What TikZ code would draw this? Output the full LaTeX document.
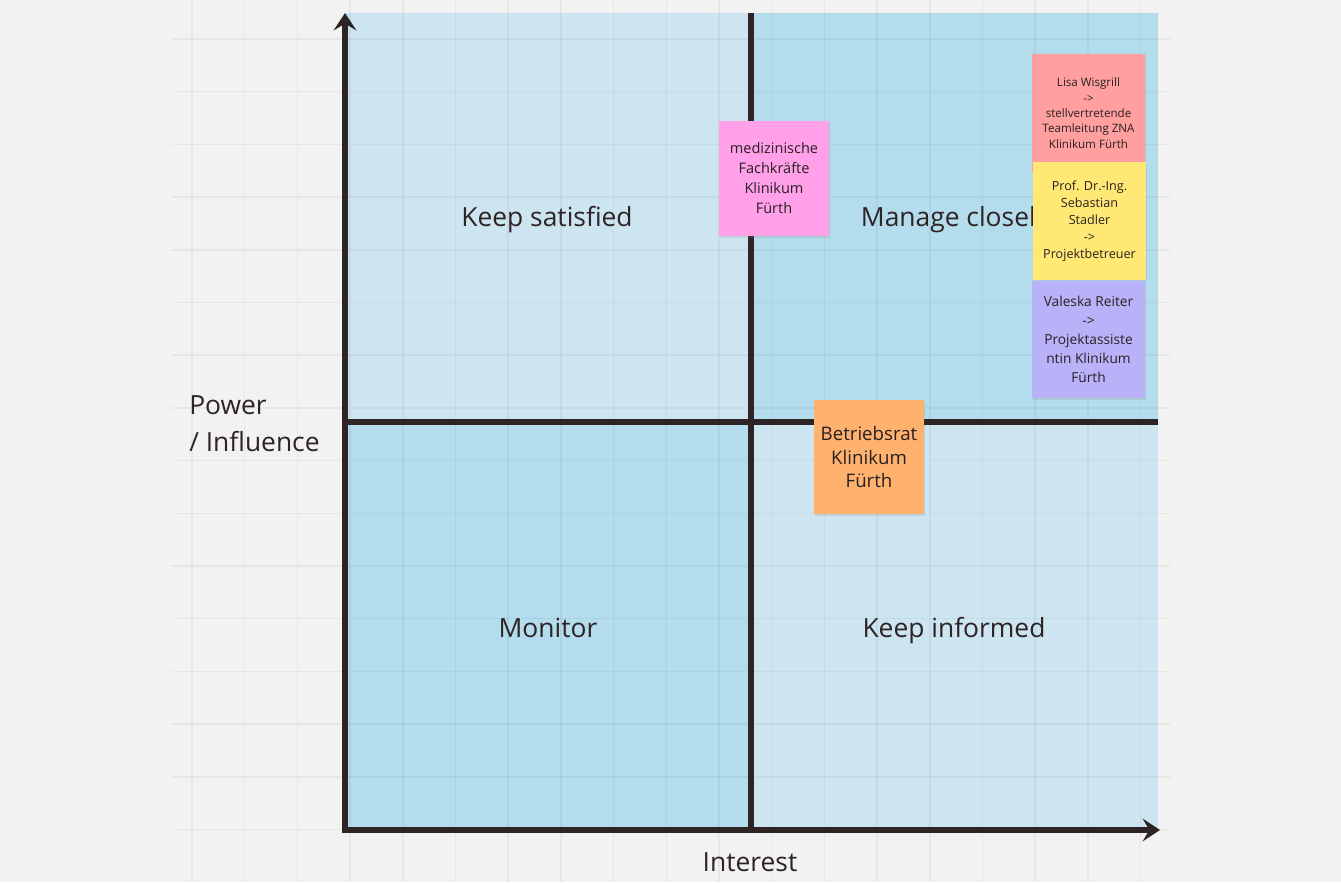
\documentclass[tikz,border=0pt]{standalone}
\usepackage{fontspec}
\setmainfont{Open Sans}
\usepackage{tikz}
\usetikzlibrary{arrows.meta}
\usetikzlibrary{shadows}
\definecolor{bgcol}{HTML}{F2F2F2}
\definecolor{quadlight}{HTML}{CDE5F0}
\definecolor{quaddark}{HTML}{B3DCEC}
\definecolor{inkcol}{HTML}{2E2426}
\definecolor{notepink}{HTML}{FFA0E8}
\definecolor{noteorange}{HTML}{FFB26E}
\definecolor{notered}{HTML}{FF9F9F}
\definecolor{noteyellow}{HTML}{FFE874}
\definecolor{notepurple}{HTML}{BAB2F8}
\tikzset{
  gridline/.style={black, opacity=.045, line width=1.1pt},
  axis/.style={inkcol, line width=3.8pt, line join=miter},
  quadlabel/.style={text=inkcol, font=\fontsize{19.8pt}{27.75pt}\selectfont, align=center, inner sep=0pt},
  sticky/.style={inner sep=0pt, align=center, text=inkcol!90!black,
    drop shadow={opacity=.18, shadow xshift=.6pt, shadow yshift=-1.6pt}}
}

\begin{document}
\begin{tikzpicture}[x=.75pt, y=-.75pt]
\useasboundingbox (0,0) rectangle (1341,882);
\fill[bgcol] (0,0) rectangle (1341,882);
% quadrants
\fill[quadlight] (345,13) rectangle (751,422);
\fill[quaddark]  (751,13) rectangle (1158,422);
\fill[quaddark]  (345,422) rectangle (751,830);
\fill[quadlight] (751,422) rectangle (1158,830);
% board grid
\foreach \i in {0,...,18} {
 \draw[gridline] ({192+52.7*\i},0) -- ({192+52.7*\i},882);
}
\foreach \j in {0,...,15} {
 \draw[gridline] (172,{39+52.7*\j}) -- (1170,{39+52.7*\j});
}
% axes
\coordinate (origin) at (345,830);
\coordinate (ytop) at (345,13);
\coordinate (xend) at (1160,830);
\coordinate (midtop) at (751,13);
\coordinate (midbot) at (751,830);
\coordinate (midleft) at (345,422);
\coordinate (midright) at (1158,422);
\draw[axis] (midtop) -- (midbot);
\draw[axis] (midleft) -- (midright);
\draw[axis, {Stealth[length=13pt,width=17pt,inset=5pt]}-{Stealth[length=13pt,width=17pt,inset=5pt]}] (ytop) -- (origin) -- (xend);
% labels
\node[quadlabel] (satisfied) at (547,220) {Keep satisfied};
\node[quadlabel] (closely) at (955,220) {Manage closely};
\node[quadlabel] (monitor) at (548,628) {Monitor};
\node[quadlabel] (informed) at (954,631) {Keep informed};
\node[quadlabel] (interest) at (750,862) {Interest};
\node[quadlabel, anchor=west, align=left] (power) at (189,424) {Power\\/ Influence};
% stickies
\node[sticky, fill=notepink, minimum width=82.5pt, minimum height=86pt,
  font=\fontsize{10.9pt}{15pt}\selectfont] (fach) at (774,178.5)
  {medizinische\\Fachkräfte\\Klinikum\\Fürth};
\node[sticky, fill=noteorange, minimum width=82.5pt, minimum height=85pt,
  font=\fontsize{14pt}{17.6pt}\selectfont] (rat) at (869,457)
  {Betriebsrat\\Klinikum\\Fürth};
\node[sticky, fill=notered, minimum width=85pt, minimum height=88.5pt,
  font=\fontsize{8.7pt}{11.5pt}\selectfont] (lisa) at (1088.5,113)
  {Lisa Wisgrill\\->\\stellvertretende\\Teamleitung ZNA\\Klinikum Fürth};
\node[sticky, fill=noteyellow, minimum width=85pt, minimum height=88.5pt,
  font=\fontsize{9.45pt}{12.75pt}\selectfont] (stadler) at (1089.5,221)
  {Prof. Dr.-Ing.\\Sebastian\\Stadler\\->\\Projektbetreuer};
\node[sticky, fill=notepurple, minimum width=85pt, minimum height=88pt,
  font=\fontsize{10.3pt}{14.25pt}\selectfont] (reiter) at (1088.5,339.5)
  {Valeska Reiter\\->\\Projektassiste\\ntin Klinikum\\Fürth};
\end{tikzpicture}
\end{document}
